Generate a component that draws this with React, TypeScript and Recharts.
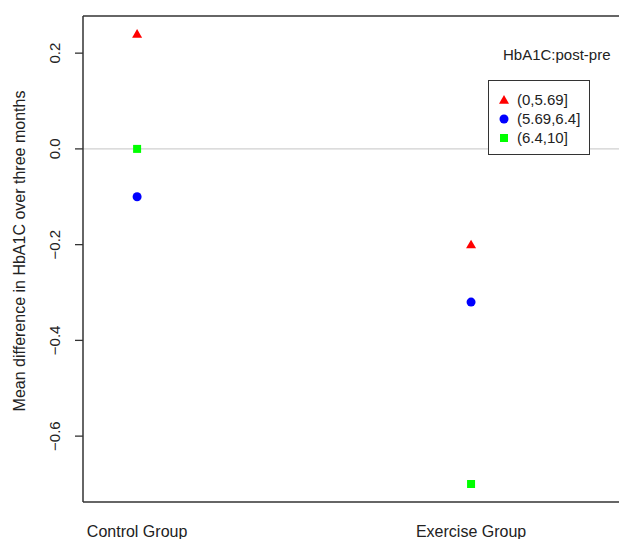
import React from "react";
import {
  ScatterChart,
  Scatter,
  XAxis,
  YAxis,
  ReferenceLine,
} from "recharts";

const groups = ["Control Group", "Exercise Group"];
const groupX = [1, 2];
// mean HbA1C change per baseline band
const lowBand = [0.24, -0.2]; // (0,5.69]
const midBand = [-0.1, -0.32]; // (5.69,6.4]
const highBand = [0.0, -0.7]; // (6.4,10]
const bandLabels = ["(0,5.69]", "(5.69,6.4]", "(6.4,10]"];
const bandColors = ["#FF0000", "#0000FF", "#00FF00"];
const yTicks = [-0.6, -0.4, -0.2, 0, 0.2];

const FONT = '"Liberation Sans", Arial, sans-serif';
// plot runs off the right edge of the picture, as in the original
const X_DOMAIN: [number, number] = [0.838, 2.443];
const Y_DOMAIN: [number, number] = [-0.7376, 0.2776];

const toPoints = (vals: number[]) => groups.map((g, i) => ({ x: groupX[i], y: vals[i], group: g }));

const Triangle = (p: any) => (
  <polygon
    points={`${p.cx},${p.cy - 5} ${p.cx - 5},${p.cy + 3.7} ${p.cx + 5},${p.cy + 3.7}`}
    fill={bandColors[0]}
  />
);
const Dot = (p: any) => <circle cx={p.cx} cy={p.cy} r={4.5} fill={bandColors[1]} />;
const Square = (p: any) => <rect x={p.cx - 4} y={p.cy - 4} width={8} height={8} fill={bandColors[2]} />;

const fmt = (v: number) => (v < 0 ? "\u2212" + Math.abs(v).toFixed(1) : v.toFixed(1));

const YTick = (p: any) => {
  const x = p.x - 18;
  return (
    <text
      x={x}
      y={p.y}
      dy="0.35em"
      transform={`rotate(-90, ${x}, ${p.y})`}
      textAnchor="middle"
      fontSize={15}
      fontFamily={FONT}
      fill="#222"
    >
      {fmt(p.payload.value)}
    </text>
  );
};

const LegendMark = ({ i }: { i: number }) => (
  <svg width={12} height={12} style={{ position: "absolute", left: 9, top: 4 }}>
    {i === 0 && <polygon points="6,1 1,9.7 11,9.7" fill={bandColors[0]} />}
    {i === 1 && <circle cx={6} cy={6} r={4.5} fill={bandColors[1]} />}
    {i === 2 && <rect x={2} y={2} width={8} height={8} fill={bandColors[2]} />}
  </svg>
);

export default function App() {
  return (
    <div style={{ position: "relative", width: 619, height: 539, fontFamily: FONT, overflow: "hidden" }}>
      <style>{"html,body{margin:0;padding:0;overflow:hidden;}"}</style>
      <ScatterChart width={619} height={539} margin={{ top: 16, right: 0, left: 8, bottom: 0 }}>
        <XAxis
          type="number"
          dataKey="x"
          domain={X_DOMAIN}
          allowDataOverflow
          ticks={groupX}
          tickFormatter={(v) => groups[v - 1]}
          axisLine={false}
          tickLine={false}
          tickSize={0}
          tickMargin={24}
          height={37}
          tick={{ fontSize: 16, fontFamily: FONT, fill: "#222" }}
        />
        <YAxis
          type="number"
          dataKey="y"
          domain={Y_DOMAIN}
          allowDataOverflow
          ticks={yTicks}
          width={75}
          axisLine={{ stroke: "#333", strokeWidth: 1.5 }}
          tickLine={{ stroke: "#333", strokeWidth: 1.3 }}
          tickSize={8}
          tickMargin={2}
          tick={<YTick />}
          label={{
            content: () => {
              const cx = 19;
              const cy = 251;
              return (
                <text
                  x={cx}
                  y={cy}
                  dy="0.35em"
                  transform={`rotate(-90, ${cx}, ${cy})`}
                  textAnchor="middle"
                  fontSize={16}
                  fontFamily={FONT}
                  fill="#222"
                >
                  Mean difference in HbA1C over three months
                </text>
              );
            },
          }}
        />
        <ReferenceLine y={0} stroke="#d0d0d0" strokeWidth={1.3} />
        <ReferenceLine y={Y_DOMAIN[1]} stroke="#333" strokeWidth={1.5} />
        <ReferenceLine y={Y_DOMAIN[0]} stroke="#333" strokeWidth={1.5} />
        <Scatter name={bandLabels[0]} data={toPoints(lowBand)} shape={Triangle} isAnimationActive={false} />
        <Scatter name={bandLabels[1]} data={toPoints(midBand)} shape={Dot} isAnimationActive={false} />
        <Scatter name={bandLabels[2]} data={toPoints(highBand)} shape={Square} isAnimationActive={false} />
      </ScatterChart>

      <div
        style={{
          position: "absolute",
          left: 503,
          top: 46,
          fontSize: 15,
          lineHeight: "18px",
          color: "#222",
          whiteSpace: "nowrap",
        }}
      >
        HbA1C:post-pre
      </div>
      <div
        style={{
          position: "absolute",
          left: 488,
          top: 80,
          width: 102,
          height: 75,
          boxSizing: "border-box",
          border: "1.5px solid #333",
          paddingTop: 9,
          background: "#fff",
        }}
      >
        {bandLabels.map((lab, i) => (
          <div
            key={lab}
            style={{
              position: "relative",
              height: 19,
              lineHeight: "19px",
              fontSize: 15,
              paddingLeft: 28,
              color: "#222",
              whiteSpace: "nowrap",
            }}
          >
            <LegendMark i={i} />
            {lab}
          </div>
        ))}
      </div>
    </div>
  );
}
